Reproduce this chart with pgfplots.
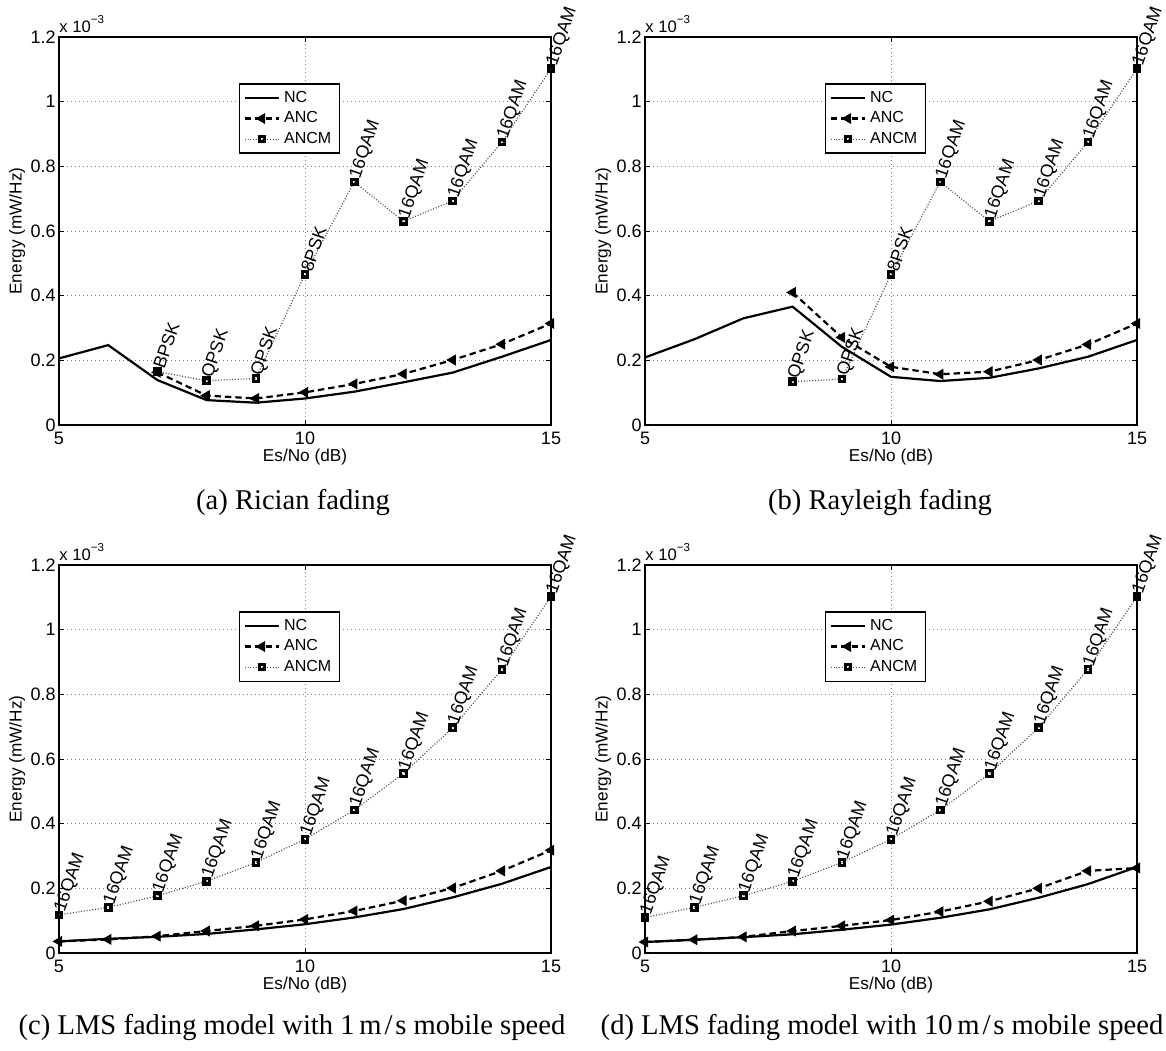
\documentclass[border=0pt]{standalone}
\usepackage{pgfplots}
\pgfplotsset{compat=1.18}
\usepackage{pgfplotstable}
\usepackage{fontspec}
\setmainfont{Liberation Serif}
\newfontfamily\hv{Liberation Sans}

% ---------------- data (Energy in units of 1e-3 mW/Hz) ----------------
\pgfplotstableread{
x y
5 0.206
6 0.247
7 0.139
8 0.077
9 0.069
10 0.082
11 0.103
12 0.132
13 0.162
14 0.211
15 0.263
}\ncA
\pgfplotstableread{
x y
7 0.163
8 0.091
9 0.082
10 0.101
11 0.127
12 0.158
13 0.201
14 0.250
15 0.314
}\ancA
\pgfplotstableread{
x y lab
7 0.165 BPSK
8 0.137 QPSK
9 0.144 QPSK
10 0.466 8PSK
11 0.752 16QAM
12 0.630 16QAM
13 0.693 16QAM
14 0.875 16QAM
15 1.102 16QAM
}\ancmA
\pgfplotstableread{
x y
5 0.209
6 0.265
7 0.330
8 0.366
9 0.242
10 0.149
11 0.136
12 0.146
13 0.175
14 0.211
15 0.263
}\ncB
\pgfplotstableread{
x y
8 0.410
9 0.271
10 0.180
11 0.157
12 0.165
13 0.201
14 0.249
15 0.314
}\ancB
\pgfplotstableread{
x y lab
8 0.134 QPSK
9 0.142 QPSK
10 0.466 8PSK
11 0.752 16QAM
12 0.630 16QAM
13 0.693 16QAM
14 0.875 16QAM
15 1.102 16QAM
}\ancmB
\pgfplotstableread{
x y
5 0.036
6 0.044
7 0.050
8 0.059
9 0.073
10 0.089
11 0.110
12 0.136
13 0.172
14 0.214
15 0.266
}\ncC
\pgfplotstableread{
x y
5 0.036
6 0.042
7 0.052
8 0.068
9 0.084
10 0.104
11 0.130
12 0.162
13 0.201
14 0.254
15 0.318
}\ancC
\pgfplotstableread{
x y lab
5 0.118 16QAM
6 0.141 16QAM
7 0.177 16QAM
8 0.222 16QAM
9 0.280 16QAM
10 0.352 16QAM
11 0.442 16QAM
12 0.555 16QAM
13 0.697 16QAM
14 0.877 16QAM
15 1.103 16QAM
}\ancmC
\pgfplotstableread{
x y
5 0.034
6 0.041
7 0.049
8 0.058
9 0.072
10 0.088
11 0.109
12 0.135
13 0.171
14 0.213
15 0.266
}\ncD
\pgfplotstableread{
x y
5 0.034
6 0.041
7 0.050
8 0.068
9 0.084
10 0.102
11 0.128
12 0.160
13 0.200
14 0.254
15 0.263
}\ancD
\pgfplotstableread{
x y lab
5 0.110 16QAM
6 0.141 16QAM
7 0.177 16QAM
8 0.222 16QAM
9 0.280 16QAM
10 0.352 16QAM
11 0.442 16QAM
12 0.555 16QAM
13 0.697 16QAM
14 0.877 16QAM
15 1.103 16QAM
}\ancmD

\pgfplotsset{
  myax/.style={
    scale only axis, width=246pt, height=194pt,
    xmin=5, xmax=15, ymin=0, ymax=1.2,
    xtick={5,10,15}, ytick={0,0.2,0.4,0.6,0.8,1,1.2},
    tick align=inside, xtick pos=both, ytick pos=both,
    major tick length=2.5pt,
    tick style={black, line width=0.5pt},
    axis line style={black, line width=0.55pt},
    grid=major,
    major grid style={black!50, line width=0.4pt, dash pattern=on 0.5pt off 1.5pt},
    /pgf/number format/assume math mode=true,
    ticklabel style={font=\hv\fontsize{9}{10}\selectfont},
    yticklabel style={inner sep=1.5pt},
    xticklabel style={inner sep=1.5pt, yshift=-2pt},
    xlabel={Es/No (dB)}, ylabel={Energy (mW/Hz)},
    xlabel style={font=\hv\fontsize{8.6}{9}\selectfont, at={(axis description cs:0.5,-0.083)}, anchor=center},
    ylabel style={font=\hv\fontsize{8.6}{9}\selectfont, at={(axis description cs:-0.085,0.5)}, anchor=center},
    clip=false,
    legend style={at={(axis description cs:0.366,0.881)}, anchor=north west,
      font=\hv\fontsize{8}{9}\selectfont, draw=black, line width=0.7pt,
      fill=white, inner xsep=2pt, inner ysep=1.5pt, row sep=-0.8pt,
      cells={anchor=west}},
    legend cell align=left,
  },
  ncstyle/.style={black, line width=1.1pt, solid, mark=none},
  ancstyle/.style={black, line width=1.1pt, dash pattern=on 3.2pt off 2pt,
    mark=triangle*, mark size=2.7pt, mark options={solid, rotate=90, fill=black, line width=0.5pt}},
  ancmstyle/.style={black!70, line width=0.6pt, dash pattern=on 0.5pt off 0.9pt,
    mark=square, mark size=1.35pt, mark options={solid, draw=black, line width=1.6pt},
    nodes near coords, point meta=explicit symbolic,
    nodes near coords style={black, rotate=71, anchor=west, inner sep=1.2pt,
      font=\hv\fontsize{8.9}{10}\selectfont}},
}

\newcommand{\expo}{\node[anchor=base west, inner sep=0pt, yshift=2.5pt, font=\hv\fontsize{8.3}{9}\selectfont] at (rel axis cs:0,1) {x 10\raisebox{0.5em}{\fontsize{5.8}{6}\selectfont −3}};}

\begin{document}
\begin{tikzpicture}
\useasboundingbox (0pt,0pt) rectangle (583pt,-525pt);

% (a)
\begin{axis}[myax, at={(29.5pt,-212.5pt)}, anchor=south west]
\addplot[ncstyle] table[x=x,y=y] {\ncA};
\addlegendentry{NC}
\addplot[ancstyle] table[x=x,y=y] {\ancA};
\addlegendentry{ANC}
\addplot[ancmstyle] table[x=x,y=y,meta=lab] {\ancmA};
\addlegendentry{ANCM}
\expo
\end{axis}

% (b)
\begin{axis}[myax, at={(322.5pt,-212.5pt)}, anchor=south west]
\addplot[ncstyle] table[x=x,y=y] {\ncB};
\addlegendentry{NC}
\addplot[ancstyle] table[x=x,y=y] {\ancB};
\addlegendentry{ANC}
\addplot[ancmstyle] table[x=x,y=y,meta=lab] {\ancmB};
\addlegendentry{ANCM}
\expo
\end{axis}

% (c)
\begin{axis}[myax, at={(29.5pt,-476.5pt)}, anchor=south west]
\addplot[ncstyle] table[x=x,y=y] {\ncC};
\addlegendentry{NC}
\addplot[ancstyle] table[x=x,y=y] {\ancC};
\addlegendentry{ANC}
\addplot[ancmstyle] table[x=x,y=y,meta=lab] {\ancmC};
\addlegendentry{ANCM}
\expo
\end{axis}

% (d)
\begin{axis}[myax, at={(322.5pt,-476.5pt)}, anchor=south west]
\addplot[ncstyle] table[x=x,y=y] {\ncD};
\addlegendentry{NC}
\addplot[ancstyle] table[x=x,y=y] {\ancD};
\addlegendentry{ANC}
\addplot[ancmstyle] table[x=x,y=y,meta=lab] {\ancmD};
\addlegendentry{ANCM}
\expo
\end{axis}

\node[font=\fontsize{14.3}{16}\selectfont] at (146.5pt,-251.5pt) {(a) Rician fading};
\node[font=\fontsize{14.3}{16}\selectfont] at (440pt,-251.5pt) {(b) Rayleigh fading};
\node[font=\fontsize{14.3}{16}\selectfont] at (146pt,-513.5pt) {(c) LMS fading model with 1\,m\kern0.1em/\kern0.1em s mobile speed};
\node[font=\fontsize{14.3}{16}\selectfont] at (441pt,-513.5pt) {(d) LMS fading model with 10\,m\kern0.1em/\kern0.1em s mobile speed};
\end{tikzpicture}
\end{document}
